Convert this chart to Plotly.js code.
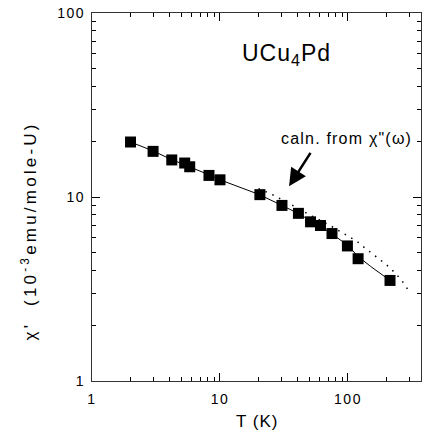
<!DOCTYPE html>
<html>
<head>
<meta charset="utf-8">
<script src="https://cdn.plot.ly/plotly-3.0.1.min.js"></script>
<style>html,body{margin:0;padding:0;background:#fff;}#chart{width:422px;height:433px;}</style>
</head>
<body>
<div id="chart"></div>
<script>
// Measured points: temperature T (K) and chi' (10^-3 emu/mole-U)
var tempK = [2, 3, 4.2, 5.3, 5.8, 8.2, 10, 20.5, 30.5, 41, 51, 61, 75, 99, 120, 213];
var chiMeas = [19.9, 17.7, 15.9, 15.3, 14.6, 13.1, 12.4, 10.3, 9.0, 8.15, 7.33, 7.0, 6.33, 5.42, 4.62, 3.52];

// Solid fit curve through the data
var fitT = [2, 3, 4, 5, 6, 8, 10, 15, 20, 30, 40, 50, 60, 75, 100, 120, 150, 213];
var fitChi = [19.9, 17.8, 16.2, 15.2, 14.5, 13.3, 12.4, 11.2, 10.35, 9.05, 8.2, 7.5, 7.0, 6.3, 5.45, 4.75, 4.2, 3.52];

// Dotted curve: calculated from chi''(omega)
var calcT = [20, 25, 35, 50, 70, 90, 118, 135, 179, 200, 227, 261, 295];
var calcChi = [11.1, 10.4, 9.2, 8.0, 7.1, 6.4, 5.73, 5.3, 4.56, 4.28, 3.94, 3.55, 3.13];

// Tick labels
var xTickVals = [1, 10, 100];
var xTickText = ['1', '10', '100'];
var yTickVals = [1, 10, 100];
var yTickText = ['1', '10', '100'];
var minorVals = [2,3,4,5,6,7,8,9,20,30,40,50,60,70,80,90,200,300];

var FONT = 'Liberation Sans, Arial, Helvetica, sans-serif';
function ls(t, px) { return '<span style="letter-spacing:' + px + 'px">' + t + '</span>'; }

var traces = [
  {x: calcT, y: calcChi, type: 'scatter', mode: 'lines',
   line: {color: '#000', width: 1.5, dash: '1.5px,6px'}, hoverinfo: 'skip'},
  {x: fitT, y: fitChi, type: 'scatter', mode: 'lines',
   line: {color: '#000', width: 1}, hoverinfo: 'skip'},
  {x: tempK, y: chiMeas, type: 'scatter', mode: 'markers',
   marker: {symbol: 'square', size: 11, color: '#000'}}
];

var axisCommon = {
  type: 'log', showgrid: false, zeroline: false,
  showline: true, linecolor: '#333', linewidth: 1.2, mirror: 'ticks',
  ticks: 'inside', ticklen: 8, tickwidth: 1, tickcolor: '#000',
  tickmode: 'array',
  tickfont: {family: FONT, size: 14, color: '#000'},
  minor: {tickmode: 'array', tickvals: minorVals, ticks: 'inside', ticklen: 4, tickwidth: 1, tickcolor: '#000', showgrid: false}
};

var xaxis = Object.assign({}, axisCommon, {
  range: [0, Math.log10(372)],
  tickvals: xTickVals, ticktext: xTickText.map(function(t){return ls(t,1.5);}),
  ticklabelstandoff: 5
});
var yaxis = Object.assign({}, axisCommon, {
  range: [0, 2],
  tickvals: yTickVals, ticktext: yTickText.map(function(t){return ls(t,1.5);}),
  ticklabelstandoff: 3
});

var layout = {
  width: 422, height: 433,
  margin: {l: 92, r: 1, t: 13, b: 52},
  paper_bgcolor: '#fff', plot_bgcolor: '#fff',
  showlegend: false,
  font: {family: FONT, color: '#000'},
  xaxis: xaxis, yaxis: yaxis,
  annotations: [
    {xref: 'paper', yref: 'paper', x: 0.5, y: -0.111, xanchor: 'center', yanchor: 'middle',
     text: ls('T (K)', 1), showarrow: false, font: {family: FONT, size: 17}},
    {xref: 'paper', yref: 'paper', x: -0.191, y: 0.407, xanchor: 'center', yanchor: 'middle', textangle: -90,
     text: ls('χ\'\u00a0\u00a0(10<sup>-3</sup>emu/mole-U)', 3.2), showarrow: false, font: {family: FONT, size: 17}},
    {xref: 'paper', yref: 'paper', x: 0.591, y: 0.887, xanchor: 'center', yanchor: 'middle',
     text: ls('UCu<sub>4</sub>Pd', 1), showarrow: false, font: {family: FONT, size: 23}},
    {xref: 'paper', yref: 'paper', x: 0.773, y: 0.660, xanchor: 'center', yanchor: 'middle',
     text: ls('caln. from χ"(ω)', 1.2), showarrow: false, font: {family: FONT, size: 16}},
    {xref: 'paper', yref: 'paper', x: 0.599, y: 0.529, text: '', showarrow: true,
     ax: 22.4, ay: -35, arrowhead: 2, arrowsize: 1.4, arrowwidth: 2.5, arrowcolor: '#000', standoff: 0}
  ]
};

Plotly.newPlot('chart', traces, layout, {displayModeBar: false, staticPlot: true});
</script>
</body>
</html>
